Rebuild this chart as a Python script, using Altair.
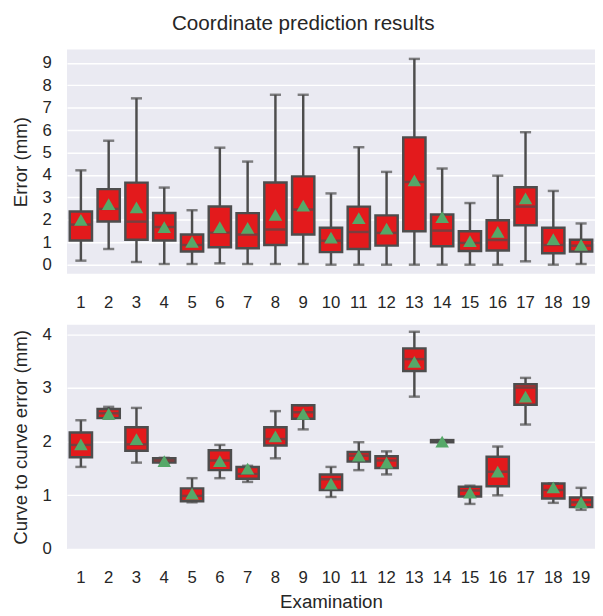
import altair as alt
import pandas as pd

exams = [str(i) for i in range(1, 20)]

# Top panel: Error (mm)
top_wlo = [0.18, 0.70, 0.12, 0.03, 0.03, 0.06, 0.03, 0.03, 0.03, 0.00, 0.00, 0.00, 0.00, 0.00, 0.00, 0.00, 0.15, 0.00, 0.03]
top_q1  = [1.08, 1.93, 1.11, 1.08, 0.59, 0.78, 0.73, 0.88, 1.35, 0.56, 0.70, 0.85, 1.49, 0.82, 0.61, 0.63, 1.76, 0.51, 0.59]
top_med = [1.79, 2.49, 1.92, 1.68, 0.88, 1.43, 1.35, 1.57, 2.46, 1.07, 1.46, 1.42, 3.69, 1.52, 0.97, 1.10, 2.59, 0.88, 0.85]
top_q3  = [2.37, 3.37, 3.66, 2.31, 1.35, 2.60, 2.30, 3.67, 3.94, 1.65, 2.59, 2.20, 5.68, 2.24, 1.49, 1.98, 3.45, 1.65, 1.11]
top_whi = [4.21, 5.53, 7.42, 3.44, 2.43, 5.22, 4.60, 7.58, 7.58, 3.18, 5.24, 4.14, 9.18, 4.29, 2.75, 3.97, 5.91, 3.29, 1.84]
top_mean = [2.00, 2.70, 2.56, 1.68, 1.02, 1.68, 1.64, 2.22, 2.63, 1.21, 2.08, 1.61, 3.76, 2.12, 1.05, 1.46, 2.96, 1.14, 0.88]

# Bottom panel: Curve to curve error (mm)
bot_wlo = [1.53, 2.43, 1.61, 1.60, 0.87, 1.32, 1.25, 1.69, 2.23, 0.97, 1.47, 1.39, 2.84, 1.99, 0.84, 1.00, 2.32, 0.86, 0.73]
bot_q1  = [1.71, 2.44, 1.83, 1.61, 0.89, 1.47, 1.31, 1.93, 2.43, 1.10, 1.63, 1.51, 3.32, 1.99, 0.98, 1.17, 2.69, 0.94, 0.78]
bot_med = [1.94, 2.53, 1.95, 1.65, 0.99, 1.65, 1.40, 2.05, 2.55, 1.30, 1.74, 1.65, 3.54, 2.01, 1.09, 1.44, 3.01, 1.10, 0.87]
bot_q3  = [2.17, 2.61, 2.27, 1.69, 1.13, 1.84, 1.53, 2.27, 2.68, 1.39, 1.81, 1.73, 3.74, 2.03, 1.16, 1.72, 3.07, 1.22, 0.96]
bot_whi = [2.40, 2.65, 2.63, 1.70, 1.32, 1.94, 1.55, 2.57, 2.68, 1.53, 1.99, 1.82, 4.05, 2.03, 1.18, 1.91, 3.19, 1.22, 1.14]
bot_mean = [1.95, 2.52, 2.05, 1.64, 1.03, 1.64, 1.50, 2.10, 2.52, 1.22, 1.74, 1.61, 3.49, 2.00, 1.05, 1.44, 2.84, 1.15, 0.87]

BG = "#EAEAF2"
RED = "#E31A1C"
LINE = "#4D4D4D"
GREEN = "#55A868"
FONT = "Liberation Sans"
TXT = "#262626"

W = 537
H = 228
BAND = W / 19


def panel(wlo, q1, med, q3, whi, mean, ytitle, ydomain, yvalues, xtitle):
    df = pd.DataFrame({"exam": exams, "wlo": wlo, "q1": q1, "med": med,
                       "q3": q3, "whi": whi, "mean": mean})
    x = alt.X("exam:O", sort=exams,
              scale=alt.Scale(paddingInner=0, paddingOuter=0),
              axis=alt.Axis(labelAngle=0, title=xtitle, labelFontSize=17,
                            labelFont=FONT, labelColor=TXT, labelPadding=21,
                            labelOverlap=False,
                            titleFont=FONT, titleFontSize=19, titleColor=TXT,
                            titleFontWeight="normal", titlePadding=8,
                            domain=False, ticks=False, grid=False))
    yscale = alt.Scale(domain=ydomain, nice=False, zero=False)
    yaxis = alt.Axis(values=yvalues, format="d", title=ytitle, labelFontSize=17,
                     labelFont=FONT, labelColor=TXT, labelPadding=16,
                     labelOverlap=False,
                     titleFont=FONT, titleFontSize=19, titleColor=TXT,
                     titleFontWeight="normal", titlePadding=12,
                     domain=False, ticks=False, grid=True,
                     gridColor="white", gridWidth=1.5)

    def Y(field):
        return alt.Y(field, scale=yscale, axis=yaxis)

    base = alt.Chart(df)
    whisk_lo = base.mark_rule(color=LINE, strokeWidth=2.5).encode(
        x=x, y=Y("wlo:Q"), y2="q1:Q")
    whisk_hi = base.mark_rule(color=LINE, strokeWidth=2.5).encode(
        x=x, y=Y("q3:Q"), y2="whi:Q")
    box = base.mark_bar(width=BAND * 0.8, fill=RED, stroke=LINE,
                        strokeWidth=2.5).encode(
        x=x, y=Y("q1:Q"), y2="q3:Q")
    cap_lo = base.mark_tick(color=LINE, size=BAND * 0.4, thickness=2.5).encode(
        x=x, y=Y("wlo:Q"))
    cap_hi = base.mark_tick(color=LINE, size=BAND * 0.4, thickness=2.5).encode(
        x=x, y=Y("whi:Q"))
    median = base.mark_tick(color=LINE, size=BAND * 0.8 - 2.5, thickness=2.5).encode(
        x=x, y=Y("med:Q"))
    mn = base.mark_point(shape="triangle-up", filled=True, fill=GREEN,
                         opacity=1, size=190, strokeWidth=0).encode(
        x=x, y=Y("mean:Q"))
    return alt.layer(whisk_lo, whisk_hi, box, cap_lo, cap_hi, median, mn).properties(
        width=W, height=H)


top = panel(top_wlo, top_q1, top_med, top_q3, top_whi, top_mean,
            "Error (mm)", [-0.4, 9.6], list(range(0, 10)), None)
bot = panel(bot_wlo, bot_q1, bot_med, bot_q3, bot_whi, bot_mean,
            "Curve to curve error (mm)", [0, 4.18], list(range(0, 5)), "Examination")

chart = alt.vconcat(top, bot, spacing=15).properties(
    title=alt.TitleParams("Coordinate prediction results", font=FONT,
                          fontSize=21, fontWeight="normal", color=TXT,
                          anchor="middle", offset=16),
    padding={"left": 3, "top": 0, "right": 0, "bottom": 0},
    background="white",
).configure_view(fill=BG, stroke=None)

chart.save("out.html", embed_options={"renderer": "svg", "actions": False})
